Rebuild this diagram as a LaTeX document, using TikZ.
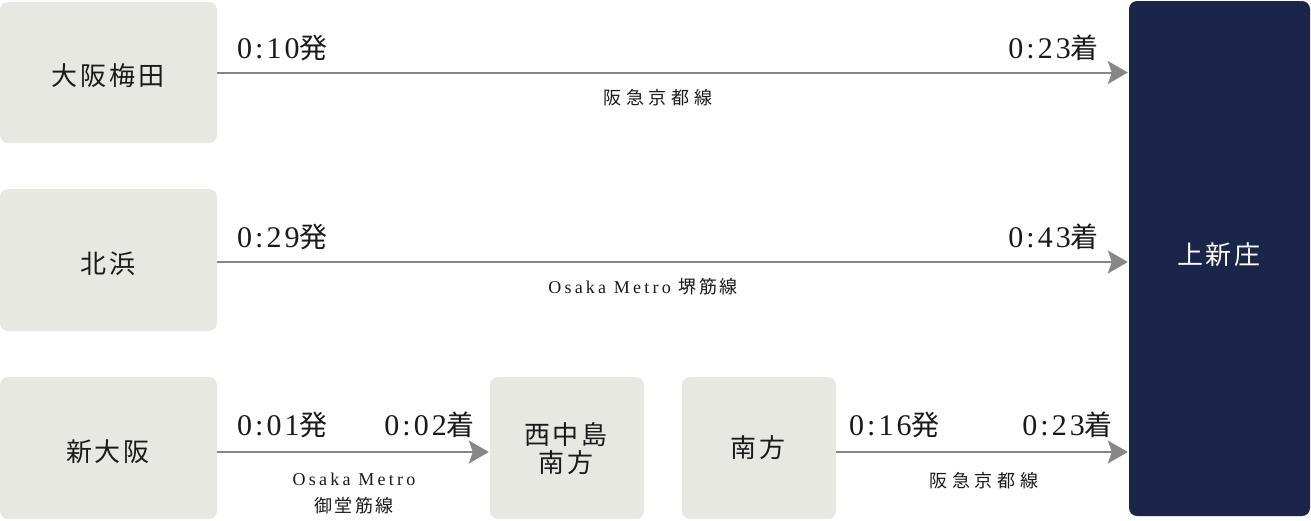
\documentclass[tikz,border=0pt]{standalone}
\usepackage{fontspec}
\setmainfont{Liberation Serif}
\newfontfamily\cjkname[LetterSpace=11]{Noto Sans CJK JP}
\newfontfamily\cjktime[LetterSpace=4]{Noto Sans CJK JP}
\newfontfamily\lattime[LetterSpace=10]{Liberation Serif}
\newfontfamily\cjkwide[LetterSpace=26]{Noto Sans CJK JP}
\newfontfamily\cjknarrow[LetterSpace=14]{Noto Sans CJK JP}
\newfontfamily\latsmall[LetterSpace=18]{Liberation Serif}
\usetikzlibrary{arrows.meta}
\definecolor{boxgray}{HTML}{E8E8E3}
\definecolor{navy}{HTML}{1B2449}
\definecolor{linegray}{HTML}{878787}
\definecolor{txt}{HTML}{1A1A1A}
\newcommand\stfont{\cjkname\fontsize{26}{32}\selectfont}
\newcommand\tmlabel[2]{{\lattime\fontsize{30}{34}\selectfont #1}{\cjktime\fontsize{28}{34}\selectfont #2}}
\newcommand\wideline[1]{{\cjkwide\fontsize{18}{22}\selectfont #1}}
\tikzset{
  stbox/.style={fill=boxgray, rounded corners=8pt, inner sep=0pt, draw=none},
  endbox/.style={fill=navy, rounded corners=8pt, inner sep=0pt, draw=none},
  stname/.style={inner sep=0pt, anchor=base, text=txt, font=\stfont},
  endname/.style={inner sep=0pt, anchor=base, text=white, font=\stfont},
  tmw/.style={inner sep=0pt, anchor=base west, text=txt},
  tme/.style={inner sep=0pt, anchor=base east, text=txt},
  linelab/.style={inner sep=0pt, anchor=base, text=txt},
  arr/.style={draw=linegray, line width=2pt,
    -{Stealth[length=20pt, width=23pt, inset=4pt, fill=linegray]}, shorten >=1pt}
}
\begin{document}
\begin{tikzpicture}[x=1pt, y=-1pt]
\useasboundingbox (0,0) rectangle (1311,520);
% boxes
\node[stbox, minimum width=217pt, minimum height=141pt] (umeda) at (108.5,72.5) {};
\node[stbox, minimum width=217pt, minimum height=142pt] (kita) at (108.5,260) {};
\node[stbox, minimum width=217pt, minimum height=142pt] (shin) at (108.5,448) {};
\node[stbox, minimum width=154pt, minimum height=142pt] (nishi) at (567,448) {};
\node[stbox, minimum width=154pt, minimum height=142pt] (minami) at (759,448) {};
\node[endbox, minimum width=181pt, minimum height=515pt] (kami) at (1219.5,258.5) {};
% station names
\node[stname] (tumeda) at (108,85) {大阪梅田};
\node[stname] (tkita) at (108,273) {北浜};
\node[stname] (tshin) at (108,461) {新大阪};
\node[stname] (tnishi1) at (566,444) {西中島};
\node[stname] (tnishi2) at (566,472) {南方};
\node[stname] (tminami) at (758,457) {南方};
\node[endname] (tkami) at (1219,264) {上新庄};
% arrows
\draw[arr] (umeda.east) -- (umeda.east -| kami.west);
\draw[arr] (kita.east) ++(0,2) coordinate (kitaout) (kitaout) -- (kitaout -| kami.west);
\draw[arr] (shin.east) ++(0,4) coordinate (shinout) (shinout) -- (shinout -| nishi.west);
\draw[arr] (minami.east) ++(0,4) coordinate (minout) (minout) -- (minout -| kami.west);
% row 1
\node[tmw] (d1) at (237,58) {\tmlabel{0:10}{発}};
\node[tme] (a1) at (1099,58) {\tmlabel{0:23}{着}};
\node[linelab] (l1) at (658,104) {\wideline{阪急京都線}};
% row 2
\node[tmw] (d2) at (237,247) {\tmlabel{0:29}{発}};
\node[tme] (a2) at (1099,247) {\tmlabel{0:43}{着}};
\node[linelab] (l2) at (643,293) {{\latsmall\fontsize{18}{22}\selectfont Osaka Metro }{\cjknarrow\fontsize{18}{22}\selectfont 堺筋線}};
% row 3
\node[tmw] (d3) at (237,435) {\tmlabel{0:01}{発}};
\node[tme] (a3) at (475,435) {\tmlabel{0:02}{着}};
\node[linelab] (l3a) at (354,485) {{\latsmall\fontsize{18}{22}\selectfont Osaka Metro}};
\node[linelab] (l3b) at (354,512) {{\cjknarrow\fontsize{18}{22}\selectfont 御堂筋線}};
\node[tmw] (d4) at (849,435) {\tmlabel{0:16}{発}};
\node[tme] (a4) at (1113,435) {\tmlabel{0:23}{着}};
\node[linelab] (l4) at (984,487) {\wideline{阪急京都線}};
\end{tikzpicture}
\end{document}
